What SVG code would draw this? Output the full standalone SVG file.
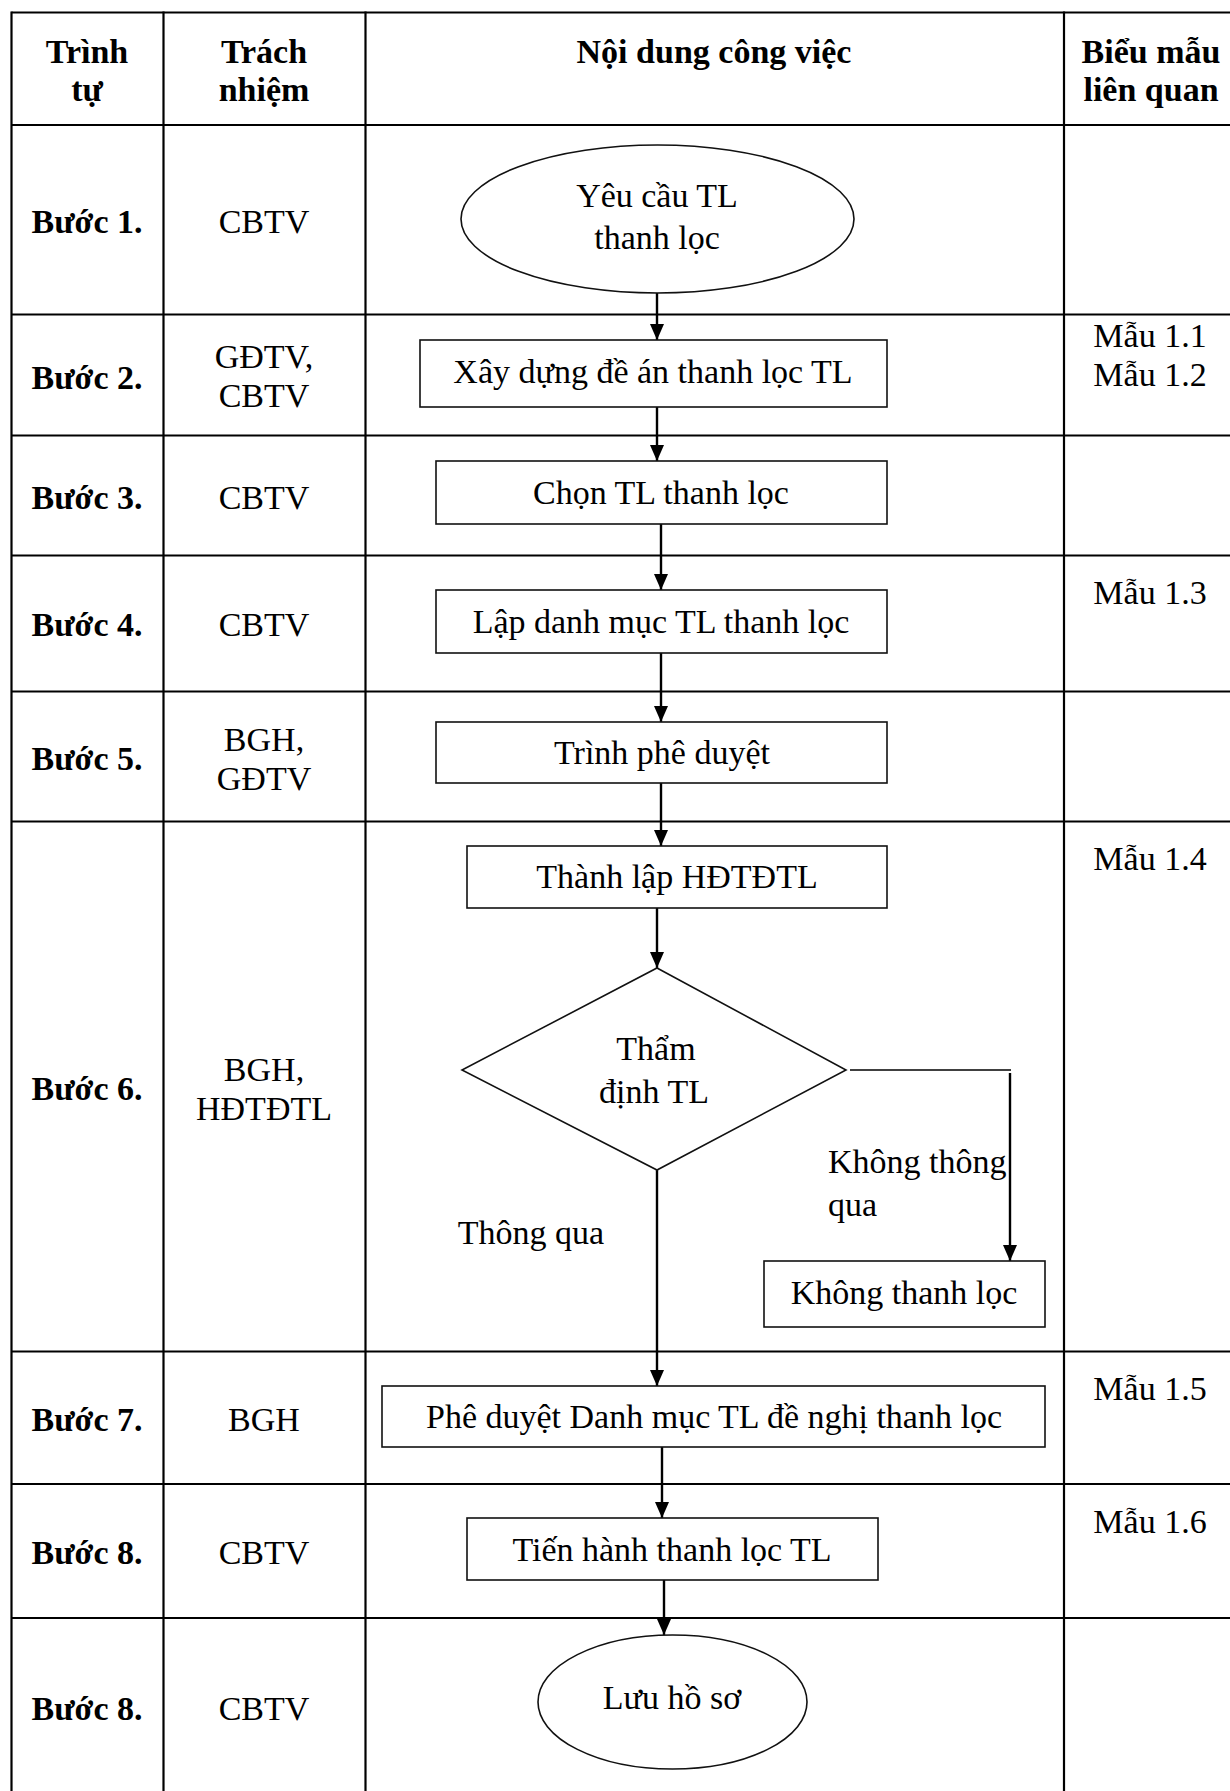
<svg xmlns="http://www.w3.org/2000/svg" width="1230" height="1791" viewBox="0 0 1230 1791">
<style>
.t{font-family:"Liberation Serif","Times New Roman",serif;font-size:34px;fill:#000;text-anchor:middle;dominant-baseline:central}
.b{font-weight:bold}
.l{text-anchor:start}
.grid{stroke:#000;stroke-width:2.2;fill:none}
.shape{stroke:#111;stroke-width:1.6;fill:#fff}
.conn{stroke:#000;stroke-width:2.4;fill:none}
.thin{stroke-width:1.6}
</style>
<defs>
<marker id="arr" markerUnits="userSpaceOnUse" markerWidth="16" markerHeight="14" viewBox="0 0 16 14" refX="16" refY="7" orient="auto">
<path d="M0,0 L16,7 L0,14 z" fill="#000"/>
</marker>
</defs>
<rect width="1230" height="1791" fill="#fff"/>
<g id="table" class="grid">
<line x1="11.5" y1="12.5" x2="1230" y2="12.5"/>
<line x1="11.5" y1="11.5" x2="11.5" y2="1791"/>
<line x1="163.5" y1="11.5" x2="163.5" y2="1791"/>
<line x1="365.5" y1="11.5" x2="365.5" y2="1791"/>
<line x1="1064" y1="11.5" x2="1064" y2="1791"/>
<line x1="11.5" y1="125" x2="1230" y2="125"/>
<line x1="11.5" y1="314.5" x2="1230" y2="314.5"/>
<line x1="11.5" y1="435.5" x2="1230" y2="435.5"/>
<line x1="11.5" y1="555.5" x2="1230" y2="555.5"/>
<line x1="11.5" y1="691.5" x2="1230" y2="691.5"/>
<line x1="11.5" y1="821.5" x2="1230" y2="821.5"/>
<line x1="11.5" y1="1351.5" x2="1230" y2="1351.5"/>
<line x1="11.5" y1="1484" x2="1230" y2="1484"/>
<line x1="11.5" y1="1618" x2="1230" y2="1618"/>
</g>
<g id="header">
<text class="t b" x="87" y="51">Trình</text>
<text class="t b" x="87" y="89">tự</text>
<text class="t b" x="264" y="51">Trách</text>
<text class="t b" x="264" y="89">nhiệm</text>
<text class="t b" x="714" y="51">Nội dung công việc</text>
<text class="t b" x="1151" y="51">Biểu mẫu</text>
<text class="t b" x="1151" y="89">liên quan</text>
</g>
<g id="steps">
<text class="t b" x="87" y="221">Bước 1.</text>
<text class="t b" x="87" y="377">Bước 2.</text>
<text class="t b" x="87" y="497">Bước 3.</text>
<text class="t b" x="87" y="624">Bước 4.</text>
<text class="t b" x="87" y="758">Bước 5.</text>
<text class="t b" x="87" y="1088">Bước 6.</text>
<text class="t b" x="87" y="1419">Bước 7.</text>
<text class="t b" x="87" y="1552">Bước 8.</text>
<text class="t b" x="87" y="1708">Bước 8.</text>
</g>
<g id="responsibility">
<text class="t" x="264" y="221">CBTV</text>
<text class="t" x="264" y="356">GĐTV,</text>
<text class="t" x="264" y="395">CBTV</text>
<text class="t" x="264" y="497">CBTV</text>
<text class="t" x="264" y="624">CBTV</text>
<text class="t" x="264" y="739">BGH,</text>
<text class="t" x="264" y="778">GĐTV</text>
<text class="t" x="264" y="1069">BGH,</text>
<text class="t" x="264" y="1108">HĐTĐTL</text>
<text class="t" x="264" y="1419">BGH</text>
<text class="t" x="264" y="1552">CBTV</text>
<text class="t" x="264" y="1708">CBTV</text>
</g>
<g id="forms">
<text class="t" x="1150" y="335">Mẫu 1.1</text>
<text class="t" x="1150" y="374">Mẫu 1.2</text>
<text class="t" x="1150" y="592">Mẫu 1.3</text>
<text class="t" x="1150" y="858">Mẫu 1.4</text>
<text class="t" x="1150" y="1388">Mẫu 1.5</text>
<text class="t" x="1150" y="1521">Mẫu 1.6</text>
</g>
<g id="connectors" class="conn">
<line x1="657" y1="293" x2="657" y2="340" marker-end="url(#arr)"/>
<line x1="657" y1="407" x2="657" y2="461" marker-end="url(#arr)"/>
<line x1="661" y1="524" x2="661" y2="590" marker-end="url(#arr)"/>
<line x1="661" y1="653" x2="661" y2="722" marker-end="url(#arr)"/>
<line x1="661" y1="783" x2="661" y2="846" marker-end="url(#arr)"/>
<line x1="657" y1="908" x2="657" y2="968" marker-end="url(#arr)"/>
<line class="thin" x1="850" y1="1070" x2="1011" y2="1070"/>
<line x1="1010" y1="1073" x2="1010" y2="1261" marker-end="url(#arr)"/>
<line x1="657" y1="1170" x2="657" y2="1386" marker-end="url(#arr)"/>
<line x1="662" y1="1447" x2="662" y2="1518" marker-end="url(#arr)"/>
<line x1="664" y1="1580" x2="664" y2="1635" marker-end="url(#arr)"/>
</g>
<g id="n-start">
<ellipse class="shape" cx="657.5" cy="219" rx="196.5" ry="74"/>
<text class="t" x="657" y="195">Yêu cầu TL</text>
<text class="t" x="657" y="237">thanh lọc</text>
</g>
<g id="n-xaydung">
<rect class="shape" x="420" y="340" width="467" height="67"/>
<text class="t" x="653" y="371">Xây dựng đề án thanh lọc TL</text>
</g>
<g id="n-chon">
<rect class="shape" x="436" y="461" width="451" height="63"/>
<text class="t" x="661" y="492">Chọn TL thanh lọc</text>
</g>
<g id="n-lap">
<rect class="shape" x="436" y="590" width="451" height="63"/>
<text class="t" x="661" y="621">Lập danh mục TL thanh lọc</text>
</g>
<g id="n-trinh">
<rect class="shape" x="436" y="722" width="451" height="61"/>
<text class="t" x="662" y="752">Trình phê duyệt</text>
</g>
<g id="n-thanhlap">
<rect class="shape" x="467" y="846" width="420" height="62"/>
<text class="t" x="677" y="876">Thành lập HĐTĐTL</text>
</g>
<g id="n-thamdinh">
<polygon class="shape" points="657,968 846,1070 657,1170 462,1070"/>
<text class="t" x="656" y="1048">Thẩm</text>
<text class="t" x="654" y="1091">định TL</text>
</g>
<g id="labels">
<text class="t l" x="828" y="1161">Không thông</text>
<text class="t l" x="828" y="1204">qua</text>
<text class="t" x="531" y="1232">Thông qua</text>
</g>
<g id="n-khong">
<rect class="shape" x="764" y="1261" width="281" height="66"/>
<text class="t" x="904" y="1292">Không thanh lọc</text>
</g>
<g id="n-pheduyet">
<rect class="shape" x="382" y="1386" width="663" height="61"/>
<text class="t" x="714" y="1416">Phê duyệt Danh mục TL đề nghị thanh lọc</text>
</g>
<g id="n-tienhanh">
<rect class="shape" x="467" y="1518" width="411" height="62"/>
<text class="t" x="672" y="1549">Tiến hành thanh lọc TL</text>
</g>
<g id="n-luu">
<ellipse class="shape" cx="672.5" cy="1702" rx="134.5" ry="67"/>
<text class="t" x="672" y="1697">Lưu hồ sơ</text>
</g>
</svg>
